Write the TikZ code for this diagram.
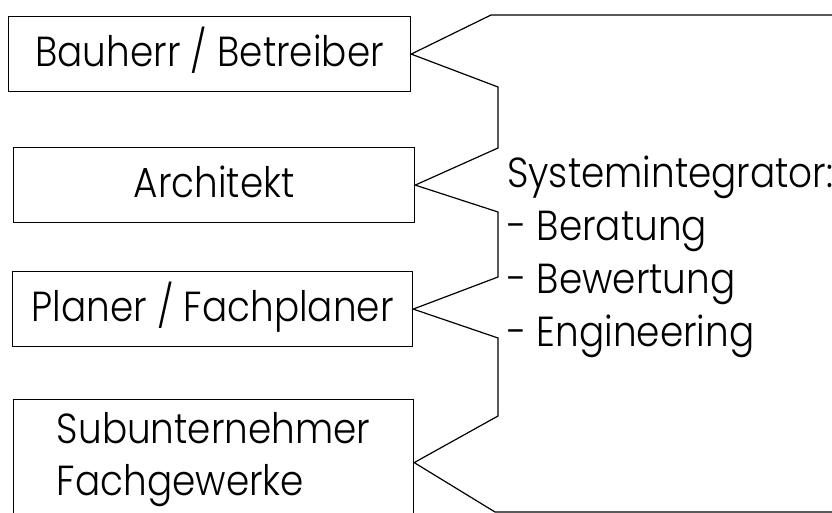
\documentclass[tikz,border=0pt]{standalone}
\usepackage{fontspec}
\setmainfont{Poppins Light}[FakeStretch=0.89]
\begin{document}
\begin{tikzpicture}[x=1pt,y=-1pt,
  party/.style={draw, line width=1.2pt, inner sep=0pt, anchor=north west,
    minimum height=75pt, align=center, text height=30pt, text depth=6pt,
    font=\fontsize{42}{52}\selectfont},
  outline/.style={line width=1.2pt, line join=miter},
  tasks/.style={inner sep=0pt, anchor=base west, align=left,
    font=\fontsize{42}{53}\selectfont}]
  \useasboundingbox (0,0) rectangle (832,513);
  \clip (0,0) rectangle (832,513);

  % parties on the left
  \node[party, minimum width=402pt] (bauherr) at (8,16) {Bauherr / Betreiber};
  \node[party, minimum width=401pt] (architekt) at (13,147) {Architekt};
  \node[party, minimum width=400pt] (planer) at (12,271) {Planer / Fachplaner};
  \node[party, minimum width=400pt, minimum height=126pt, align=left,
    text height=84pt, text depth=18pt] (sub) at (13,399)
    {Subunternehmer\\Fachgewerke};

  % system integrator outline touching every party
  \coordinate (tr) at (845,15);
  \coordinate (br) at (845,512);
  \draw[outline] (tr) -- (491,15) -- (bauherr.east) -- (498,87) -- (498,148)
    -- (architekt.east) -- (498,212) -- (498,277)
    -- (planer.east) -- (498,338) -- (498,416)
    -- (sub.east) -- (495,512) -- (br);

  % services listed inside the outline (anchored on the last line)
  \node[tasks] (integrator) at (507,346)
    {Systemintegrator:\\- Beratung\\- Bewertung\\- Engineering};
\end{tikzpicture}
\end{document}
